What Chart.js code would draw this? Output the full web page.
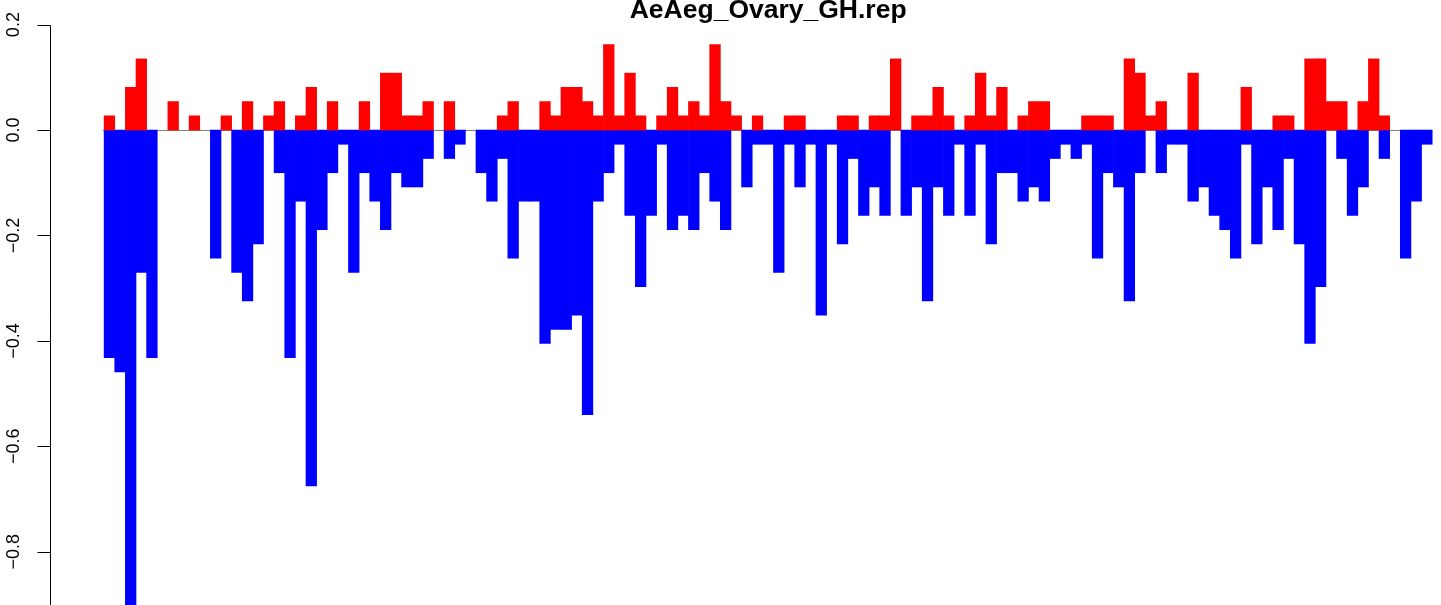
<!DOCTYPE html>
<html>
<head>
<meta charset="utf-8">
<title>AeAeg_Ovary_GH.rep</title>
<script src="https://cdn.jsdelivr.net/npm/chart.js@4.4.1/dist/chart.umd.min.js"></script>
<style>
  html, body { margin: 0; padding: 0; background: #fff; }
  #contenedor { width: 1441px; height: 605px; }
</style>
</head>
<body>
<div id="contenedor"><canvas id="grafico" width="1441" height="605"></canvas></div>
<script>
// ===================================== Datos ==================
var titulo = "AeAeg_Ovary_GH.rep";

// barras rojas (por encima de cero)
var positivos = [
  0.027, 0, 0.081, 0.135, 0, 0, 0.054, 0, 0.027, 0,
  0, 0.027, 0, 0.054, 0, 0.027, 0.054, 0, 0.027, 0.081,
  0, 0.054, 0, 0, 0.054, 0, 0.108, 0.108, 0.027, 0.027,
  0.054, 0, 0.054, 0, 0, 0, 0, 0.027, 0.054, 0,
  0, 0.054, 0.027, 0.081, 0.081, 0.054, 0.027, 0.162, 0.027, 0.108,
  0.027, 0, 0.027, 0.081, 0.027, 0.054, 0.027, 0.162, 0.054, 0.027,
  0, 0.027, 0, 0, 0.027, 0.027, 0, 0, 0, 0.027,
  0.027, 0, 0.027, 0.027, 0.135, 0, 0.027, 0.027, 0.081, 0.027,
  0, 0.027, 0.108, 0.027, 0.081, 0, 0.027, 0.054, 0.054, 0,
  0, 0, 0.027, 0.027, 0.027, 0, 0.135, 0.108, 0.027, 0.054,
  0, 0, 0.108, 0, 0, 0, 0, 0.081, 0, 0,
  0.027, 0.027, 0, 0.135, 0.135, 0.054, 0.054, 0, 0.054, 0.135,
  0.027, 0, 0, 0, 0
];

// barras azules (por debajo de cero)
var negativos = [
  -0.432, -0.459, -0.92, -0.27, -0.432, 0, 0, 0, 0, 0,
  -0.243, 0, -0.27, -0.324, -0.216, 0, -0.081, -0.432, -0.135, -0.675,
  -0.189, -0.081, -0.027, -0.27, -0.081, -0.135, -0.189, -0.081, -0.108, -0.108,
  -0.054, 0, -0.054, -0.027, 0, -0.081, -0.135, -0.054, -0.243, -0.135,
  -0.135, -0.405, -0.378, -0.378, -0.351, -0.54, -0.135, -0.081, -0.027, -0.162,
  -0.297, -0.162, -0.027, -0.189, -0.162, -0.189, -0.081, -0.135, -0.189, 0,
  -0.108, -0.027, -0.027, -0.27, -0.027, -0.108, -0.027, -0.351, -0.027, -0.216,
  -0.054, -0.162, -0.108, -0.162, 0, -0.162, -0.108, -0.324, -0.108, -0.162,
  -0.027, -0.162, -0.027, -0.216, -0.081, -0.081, -0.135, -0.108, -0.135, -0.054,
  -0.027, -0.054, -0.027, -0.243, -0.081, -0.108, -0.324, -0.081, 0, -0.081,
  -0.027, -0.027, -0.135, -0.108, -0.162, -0.189, -0.243, -0.027, -0.216, -0.108,
  -0.189, -0.054, -0.216, -0.405, -0.297, 0, -0.054, -0.162, -0.108, 0,
  -0.054, 0, -0.243, -0.135, -0.027
];

var ticksY = [0.2, 0.0, -0.2, -0.4, -0.6, -0.8];
var etiquetasY = ["0.2", "0.0", "\u22120.2", "\u22120.4", "\u22120.6", "\u22120.8"];

// rango de los ejes (como R: 4% extra a cada lado)
var limitesY = [-0.901, 0.2467];
var limitesX = [-5, 125.83];


// ===================================== Eje, linea cero y titulo ==================
var ejeEstiloR = {
  id: 'ejeEstiloR',
  beforeDatasetsDraw(chart) {
    const ctx = chart.ctx, x = chart.scales.x, y = chart.scales.y;
    const y0 = Math.round(y.getPixelForValue(0)) + 0.5;
    ctx.save();
    ctx.strokeStyle = '#808080';
    ctx.lineWidth = 1;
    ctx.beginPath();
    ctx.moveTo(x.getPixelForValue(0) - 1, y0);
    ctx.lineTo(x.getPixelForValue(positivos.length), y0);
    ctx.stroke();
    ctx.restore();
  },
  afterDraw(chart) {
    const ctx = chart.ctx, x = chart.scales.x, y = chart.scales.y;
    const ejeX = chart.chartArea.left - 0.5;
    ctx.save();
    ctx.strokeStyle = '#000';
    ctx.lineWidth = 1;

    // linea del eje
    ctx.beginPath();
    ctx.moveTo(ejeX, Math.round(y.getPixelForValue(ticksY[0])) + 0.5);
    ctx.lineTo(ejeX, chart.height);
    ctx.stroke();

    // marcas y etiquetas giradas
    ctx.fillStyle = '#000';
    ctx.font = '18px "Liberation Sans", Arial, sans-serif';
    ctx.textAlign = 'center';
    ctx.textBaseline = 'alphabetic';
    ticksY.forEach((v, i) => {
      const py = Math.round(y.getPixelForValue(v)) + 0.5;
      ctx.beginPath();
      ctx.moveTo(ejeX - 13, py);
      ctx.lineTo(ejeX, py);
      ctx.stroke();

      ctx.save();
      ctx.translate(19, y.getPixelForValue(v));
      ctx.rotate(-Math.PI / 2);
      ctx.fillText(etiquetasY[i], 0, 0);
      ctx.restore();
    });

    // titulo (cortado arriba como en el original)
    const centro = (x.getPixelForValue(0) + x.getPixelForValue(positivos.length)) / 2;
    ctx.font = 'bold 26.5px "Liberation Sans", Arial, sans-serif';
    ctx.fillText(titulo, centro, 18);
    ctx.restore();
  }
};


// ===================================== Grafico ==================
var posiciones = positivos.map((_, i) => i + 0.5);

var chartBarras = new Chart(document.getElementById("grafico"), {
  type: 'bar',
  data: {
    datasets: [
      {
        label: 'positivos',
        data: posiciones.map((p, i) => ({ x: p, y: positivos[i] === 0 ? null : positivos[i] })),
        backgroundColor: '#FF0000',
        borderWidth: 0,
        grouped: false,
        barPercentage: 1,
        categoryPercentage: 1
      },
      {
        label: 'negativos',
        data: posiciones.map((p, i) => ({ x: p, y: negativos[i] === 0 ? null : negativos[i] })),
        backgroundColor: '#0000FF',
        borderWidth: 0,
        grouped: false,
        barPercentage: 1,
        categoryPercentage: 1
      }
    ]
  },
  options: {
    responsive: false,
    animation: false,
    layout: { padding: { left: 51, right: 0, top: 0, bottom: 0 } },
    plugins: {
      legend: { display: false },
      tooltip: { enabled: false },
      title: { display: false }
    },
    scales: {
      x: { type: 'linear', offset: false, bounds: 'ticks', min: limitesX[0], max: limitesX[1], display: false },
      y: { min: limitesY[0], max: limitesY[1], display: false }
    }
  },
  plugins: [ejeEstiloR]
});
</script>
</body>
</html>
